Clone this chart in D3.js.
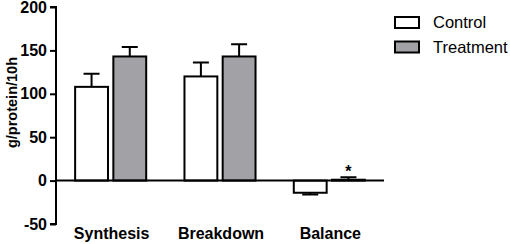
<!DOCTYPE html>
<html>
<head>
<meta charset="utf-8">
<script src="https://cdn.jsdelivr.net/npm/d3@7"></script>
<style>
  body { margin: 0; background: #fff; }
  text { font-family: "Liberation Sans", Arial, sans-serif; }
</style>
</head>
<body>
<div id="chart"></div>
<script>
const categories = ['Synthesis', 'Breakdown', 'Balance']
const series = ['Control', 'Treatment']
const controlValues = [108, 120, -14]
const controlErrors = [15, 16, -2]
const treatmentValues = [143, 143, 1]
const treatmentErrors = [11, 14, 3]
const significance = ['', '', '*']
const yTicks = [-50, 0, 50, 100, 150, 200]

const colors = { Control: '#ffffff', Treatment: '#a2a2a6' }

const data = categories.map((c, i) => ({
  category: c,
  star: significance[i],
  bars: [
    { series: 'Control', value: controlValues[i], err: controlErrors[i] },
    { series: 'Treatment', value: treatmentValues[i], err: treatmentErrors[i] }
  ]
}))

const width = 510
const height = 244

const svg = d3.select('#chart')
  .append('svg')
  .attr('width', width)
  .attr('height', height)

const x = d3.scaleBand()
  .domain(categories)
  .range([56, 384])
  .paddingInner(0.35)
  .paddingOuter(0.175)

const xSub = d3.scaleBand()
  .domain(series)
  .range([0, x.bandwidth()])
  .paddingInner(0.14)

const y = d3.scaleLinear()
  .domain([-50, 200])
  .range([224, 7])

// y axis (plain hyphen for negatives, like the original)
const yAxis = svg.append('g')
  .attr('transform', 'translate(56,0)')
  .call(d3.axisLeft(y).tickValues(yTicks).tickSize(6).tickPadding(3).tickFormat(d => String(d)))
yAxis.select('.domain').attr('stroke', '#000').attr('stroke-width', 2)
  .attr('d', `M-6,${y(200)}H0V${y(-50)}H-6`)
yAxis.selectAll('.tick line').attr('stroke', '#000').attr('stroke-width', 2)
yAxis.selectAll('.tick text')
  .attr('font-size', '16px')
  .attr('font-weight', 'bold')
  .attr('fill', '#000')
  .style('font-family', '"Liberation Sans", Arial, sans-serif')

svg.append('text')
  .attr('transform', `translate(17,${(y(200) + y(-50)) / 2 - 13}) rotate(-90)`)
  .attr('text-anchor', 'middle')
  .attr('font-size', '14.5px')
  .attr('font-weight', 'bold')
  .text('g/protein/10h')

const groups = svg.selectAll('.group')
  .data(data)
  .enter().append('g')
  .attr('class', 'group')
  .attr('transform', d => `translate(${x(d.category)},0)`)

// error bars
groups.selectAll('.err')
  .data(d => d.bars)
  .enter().append('path')
  .attr('class', 'err')
  .attr('fill', 'none')
  .attr('stroke', '#000')
  .attr('stroke-width', 2)
  .attr('d', d => {
    const cx = xSub(d.series) + xSub.bandwidth() / 2
    const y0 = y(d.value)
    const y1 = y(d.value + d.err)
    return `M${cx},${y0}V${y1}M${cx - 8},${y1}H${cx + 8}`
  })

groups.selectAll('.bar')
  .data(d => d.bars)
  .enter().append('rect')
  .attr('class', 'bar')
  .attr('x', d => xSub(d.series))
  .attr('width', xSub.bandwidth())
  .attr('y', d => y(Math.max(0, d.value)))
  .attr('height', d => Math.abs(y(d.value) - y(0)))
  .attr('fill', d => colors[d.series])
  .attr('stroke', '#000')
  .attr('stroke-width', 2)

// zero line
svg.append('line')
  .attr('x1', 56)
  .attr('x2', 384)
  .attr('y1', y(0))
  .attr('y2', y(0))
  .attr('stroke', '#000')
  .attr('stroke-width', 2)

groups.append('text')
  .attr('x', xSub('Treatment') + xSub.bandwidth() / 2)
  .attr('y', d => y(d.bars[1].value + d.bars[1].err))
  .attr('text-anchor', 'middle')
  .attr('font-size', '16px')
  .attr('font-weight', 'bold')
  .text(d => d.star)

// category labels
svg.selectAll('.cat')
  .data(categories)
  .enter().append('text')
  .attr('class', 'cat')
  .attr('x', d => x(d) + x.bandwidth() / 2 + 1)
  .attr('y', 239)
  .attr('text-anchor', 'middle')
  .attr('font-size', '16px')
  .attr('font-weight', 'bold')
  .text(d => d)

// legend
const legend = svg.append('g')
  .attr('transform', 'translate(395,0)')

legend.selectAll('rect')
  .data(series)
  .enter().append('rect')
  .attr('x', 0)
  .attr('y', (d, i) => 17 + i * 24.5)
  .attr('width', 24)
  .attr('height', 11)
  .attr('fill', d => colors[d])
  .attr('stroke', '#000')
  .attr('stroke-width', 2)

legend.selectAll('.leg')
  .data(series)
  .enter().append('text')
  .attr('class', 'leg')
  .attr('x', 38)
  .attr('y', (d, i) => 28 + i * 24.5)
  .attr('font-size', '16.5px')
  .text(d => d)
</script>
</body>
</html>
